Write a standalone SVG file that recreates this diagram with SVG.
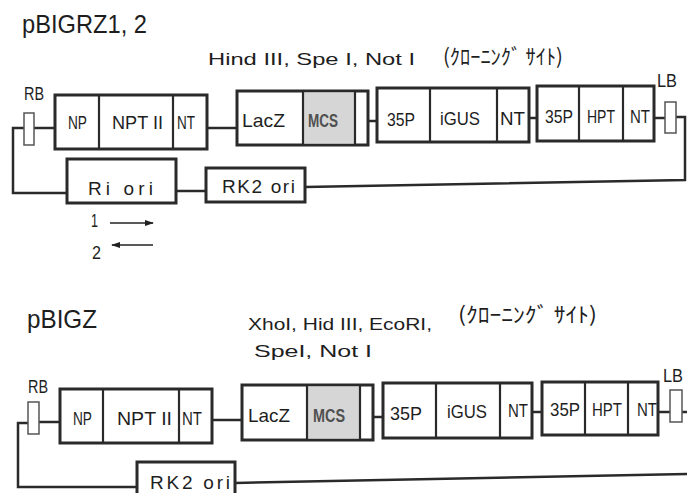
<svg xmlns="http://www.w3.org/2000/svg" width="687" height="493" viewBox="0 0 687 493">
<defs>
<style>
text { font-family: "Liberation Sans", "Noto Sans CJK JP", sans-serif; fill: #1e1e1e; }
.box { fill: #fff; stroke: #2a2a2a; stroke-width: 3; }
.dv { stroke: #2a2a2a; stroke-width: 2.2; fill: none; }
.lbl { font-size: 19px; }
.mcs { fill: #d6d6d6; }
.mcst { font-size: 18px; font-weight: bold; fill: #505050; }
.bd { fill: #fff; stroke: #555; stroke-width: 1.5; }
.wire { fill: none; stroke: #2a2a2a; stroke-width: 2.5; }
.arr { fill: none; stroke: #222; stroke-width: 1.3; }
.title { font-size: 26px; }
.site { font-size: 17px; }
.jp { font-size: 21px; font-family: "Noto Sans CJK JP", sans-serif; }
</style>
<marker id="ah" viewBox="0 0 10 10" refX="9" refY="5" markerWidth="7" markerHeight="7" orient="auto"><path d="M0,1.5 L10,5 L0,8.5 z" fill="#222"/></marker>
</defs>
<rect width="687" height="493" fill="#fff"/>

<!-- ===== pBIGRZ1,2 ===== -->
<g id="title1">
<text class="title" x="22" y="33" textLength="125" lengthAdjust="spacingAndGlyphs">pBIGRZ1, 2</text>
<text class="site" x="208" y="65" textLength="207" lengthAdjust="spacingAndGlyphs">Hind III, Spe I, Not I</text>
<text class="jp" x="443" y="64" textLength="120" lengthAdjust="spacingAndGlyphs">(ｸﾛｰﾆﾝｸﾞ ｻｲﾄ)</text>
</g>

<g id="connectors1">
<path class="wire" d="M24,128 H13 V193 H67"/>
<path class="wire" d="M34,128 H55"/>
<path class="wire" d="M207,128 H237"/>
<path class="wire" d="M368,121 H377"/>
<path class="wire" d="M529,118 H537"/>
<path class="wire" d="M654,118 H665"/>
<path class="wire" d="M676,117 H685 V180 L305,187"/>
<path class="wire" d="M176,191 H206"/>
<path class="arr" d="M110,223 H153" marker-end="url(#ah)"/>
<path class="arr" d="M153,245 H112" marker-end="url(#ah)"/>
</g>

<g id="rb1">
<text class="lbl" x="24" y="100" textLength="20" lengthAdjust="spacingAndGlyphs">RB</text>
<rect class="bd" x="24" y="113" width="10" height="32"/>
</g>

<g id="npt1">
<rect class="box" x="55" y="95" width="152" height="54"/>
<line class="dv" x1="99" y1="95" x2="99" y2="149"/>
<line class="dv" x1="173" y1="95" x2="173" y2="149"/>
<text class="lbl" x="68" y="129" textLength="19" lengthAdjust="spacingAndGlyphs">NP</text>
<text class="lbl" x="112" y="129" textLength="51" lengthAdjust="spacingAndGlyphs">NPT II</text>
<text class="lbl" x="177" y="129" textLength="18" lengthAdjust="spacingAndGlyphs">NT</text>
</g>

<g id="lacz1">
<rect class="box" x="237" y="91" width="131" height="54"/>
<rect class="mcs" x="304" y="92.5" width="50" height="51"/>
<line class="dv" x1="303" y1="91" x2="303" y2="145"/>
<line class="dv" x1="355" y1="91" x2="355" y2="145"/>
<text class="lbl" x="242" y="127" textLength="43" lengthAdjust="spacingAndGlyphs">LacZ</text>
<text class="mcst" x="308" y="127" textLength="30" lengthAdjust="spacingAndGlyphs">MCS</text>
</g>

<g id="gus1">
<rect class="box" x="377" y="88" width="152" height="54"/>
<line class="dv" x1="430" y1="88" x2="430" y2="142"/>
<line class="dv" x1="497" y1="88" x2="497" y2="142"/>
<text class="lbl" x="387" y="126" textLength="28" lengthAdjust="spacingAndGlyphs">35P</text>
<text class="lbl" x="440" y="125" textLength="40" lengthAdjust="spacingAndGlyphs">iGUS</text>
<text class="lbl" x="500" y="125" textLength="25" lengthAdjust="spacingAndGlyphs">NT</text>
</g>

<g id="hpt1">
<rect class="box" x="537" y="86" width="117" height="55"/>
<line class="dv" x1="579" y1="86" x2="579" y2="141"/>
<line class="dv" x1="623" y1="86" x2="623" y2="141"/>
<text class="lbl" x="545" y="123" textLength="28" lengthAdjust="spacingAndGlyphs">35P</text>
<text class="lbl" x="587" y="123" textLength="28" lengthAdjust="spacingAndGlyphs">HPT</text>
<text class="lbl" x="630" y="123" textLength="20" lengthAdjust="spacingAndGlyphs">NT</text>
</g>

<g id="lb1">
<text class="lbl" x="657" y="87" textLength="20" lengthAdjust="spacingAndGlyphs">LB</text>
<rect class="bd" x="665" y="102" width="11" height="31"/>
</g>

<g id="riori1">
<rect class="box" x="67" y="159" width="109" height="44"/>
<text class="lbl" x="88" y="195" textLength="65" lengthAdjust="spacing">Ri ori</text>
</g>

<g id="rk2ori1">
<rect class="box" x="206" y="168" width="99" height="34"/>
<text class="lbl" x="222" y="193" textLength="73" lengthAdjust="spacing">RK2 ori</text>
</g>

<g id="primers">
<text class="lbl" x="91" y="227" textLength="7" lengthAdjust="spacingAndGlyphs">1</text>
<text class="lbl" x="92" y="259" textLength="9" lengthAdjust="spacingAndGlyphs">2</text>
</g>

<!-- ===== pBIGZ ===== -->
<g id="title2">
<text class="title" x="27" y="328" textLength="70" lengthAdjust="spacingAndGlyphs" style="font-size:25px">pBIGZ</text>
<text class="site" x="248" y="330" textLength="184" lengthAdjust="spacingAndGlyphs">XhoI, Hid III, EcoRI,</text>
<text class="jp" x="458" y="322" textLength="139" lengthAdjust="spacingAndGlyphs">(ｸﾛｰﾆﾝｸﾞ ｻｲﾄ)</text>
<text class="site" x="254" y="357" textLength="118" lengthAdjust="spacingAndGlyphs">SpeI, Not I</text>
</g>

<g id="connectors2">
<path class="wire" d="M28,423 H18 V487 H137"/>
<path class="wire" d="M39,422 H60"/>
<path class="wire" d="M212,420 H242"/>
<path class="wire" d="M373,417 H383"/>
<path class="wire" d="M532,412 H542"/>
<path class="wire" d="M658,412 H670"/>
<path class="wire" d="M682,412 H690"/>
<path class="wire" d="M235,483 L690,474"/>
</g>

<g id="rb2">
<text class="lbl" x="28" y="393" textLength="20" lengthAdjust="spacingAndGlyphs">RB</text>
<rect class="bd" x="28" y="402" width="11" height="32"/>
</g>

<g id="npt2">
<rect class="box" x="60" y="389" width="152" height="54"/>
<line class="dv" x1="103" y1="389" x2="103" y2="443"/>
<line class="dv" x1="179" y1="389" x2="179" y2="443"/>
<text class="lbl" x="73" y="425" textLength="19" lengthAdjust="spacingAndGlyphs">NP</text>
<text class="lbl" x="117" y="425" textLength="55" lengthAdjust="spacingAndGlyphs">NPT II</text>
<text class="lbl" x="182" y="425" textLength="20" lengthAdjust="spacingAndGlyphs">NT</text>
</g>

<g id="lacz2">
<rect class="box" x="242" y="385" width="131" height="55"/>
<rect class="mcs" x="308" y="386.5" width="51" height="52"/>
<line class="dv" x1="307" y1="385" x2="307" y2="440"/>
<line class="dv" x1="360" y1="385" x2="360" y2="440"/>
<text class="lbl" x="248" y="422" textLength="42" lengthAdjust="spacingAndGlyphs">LacZ</text>
<text class="mcst" x="313" y="422" textLength="32" lengthAdjust="spacingAndGlyphs">MCS</text>
</g>

<g id="gus2">
<rect class="box" x="383" y="383" width="149" height="55"/>
<line class="dv" x1="436" y1="383" x2="436" y2="438"/>
<line class="dv" x1="500" y1="383" x2="500" y2="438"/>
<text class="lbl" x="390" y="420" textLength="32" lengthAdjust="spacingAndGlyphs">35P</text>
<text class="lbl" x="447" y="418" textLength="40" lengthAdjust="spacingAndGlyphs">iGUS</text>
<text class="lbl" x="508" y="417" textLength="20" lengthAdjust="spacingAndGlyphs">NT</text>
</g>

<g id="hpt2">
<rect class="box" x="542" y="382" width="116" height="53"/>
<line class="dv" x1="585" y1="382" x2="585" y2="435"/>
<line class="dv" x1="628" y1="382" x2="628" y2="435"/>
<text class="lbl" x="550" y="416" textLength="30" lengthAdjust="spacingAndGlyphs">35P</text>
<text class="lbl" x="592" y="416" textLength="30" lengthAdjust="spacingAndGlyphs">HPT</text>
<text class="lbl" x="637" y="416" textLength="20" lengthAdjust="spacingAndGlyphs">NT</text>
</g>

<g id="lb2">
<text class="lbl" x="663" y="382" textLength="20" lengthAdjust="spacingAndGlyphs">LB</text>
<rect class="bd" x="670" y="390" width="12" height="32"/>
</g>

<g id="rk2ori2">
<rect class="box" x="137" y="462" width="98" height="40"/>
<text class="lbl" x="150" y="489" textLength="80" lengthAdjust="spacing">RK2 ori</text>
</g>
</svg>
